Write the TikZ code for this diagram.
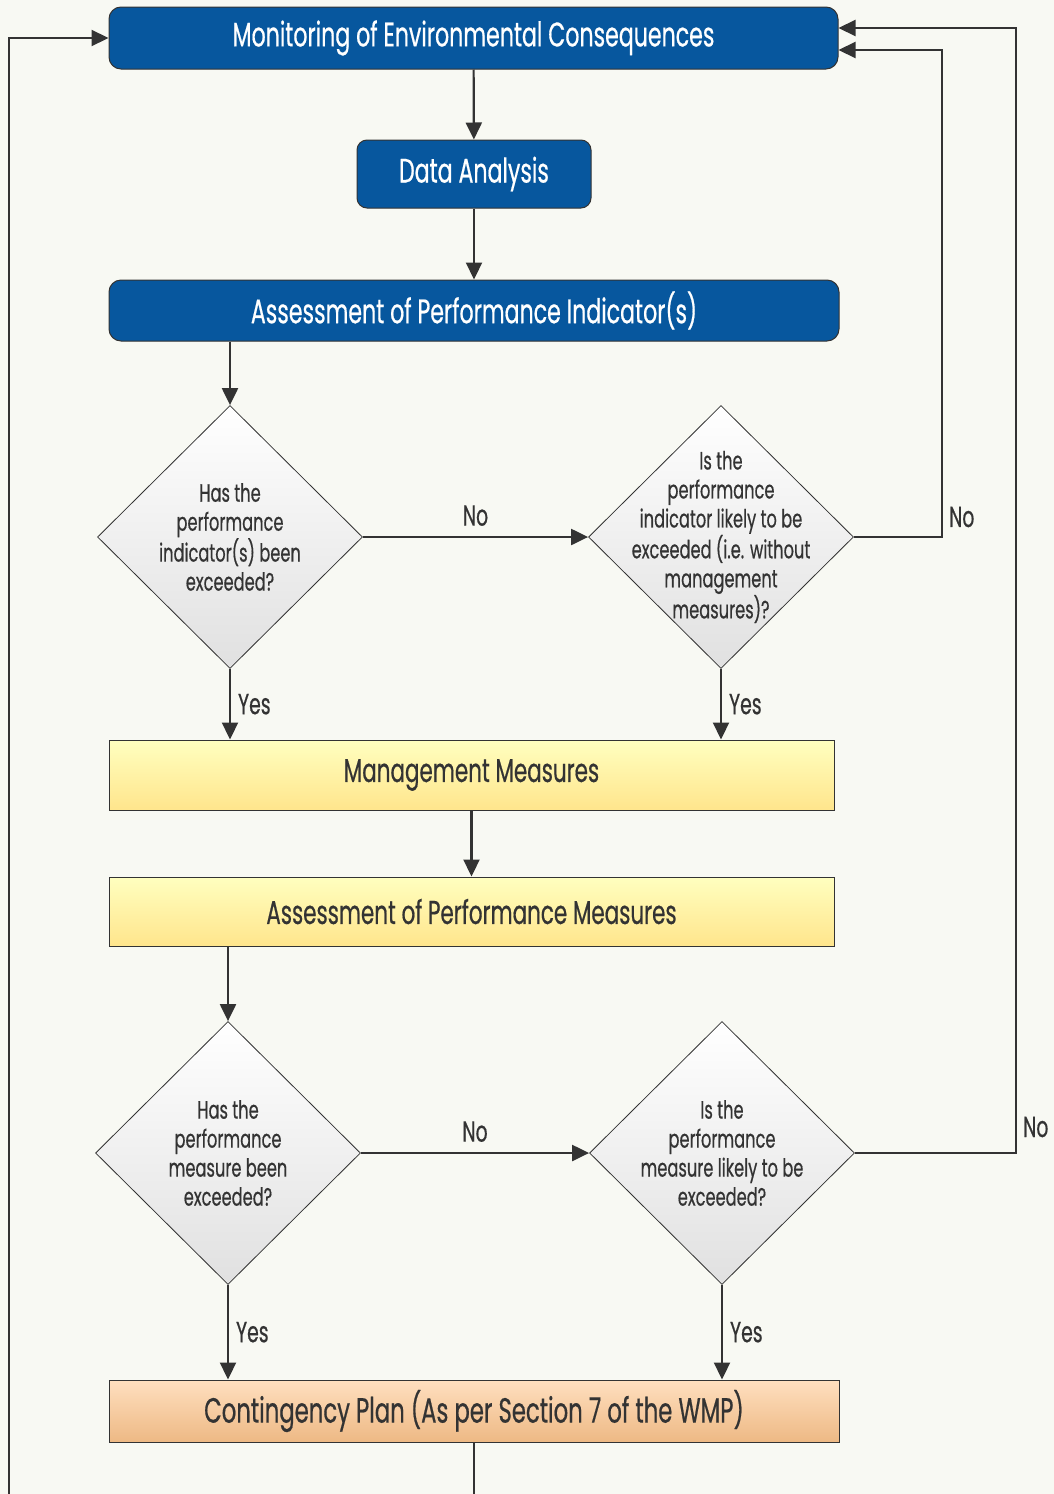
\documentclass[tikz,border=0pt]{standalone}
\usepackage{fontspec}
\setmainfont[FakeStretch=0.65,FakeBold=0.5]{Poppins}
\usetikzlibrary{shapes.geometric,arrows.meta}
\definecolor{bgcol}{HTML}{F8F9F3}
\definecolor{wmpblue}{HTML}{07579E}
\definecolor{linecol}{HTML}{333333}
\begin{document}
\begin{tikzpicture}[x=1pt,y=-1pt,
    bluebox/.style={draw=linecol, line width=1pt, fill=wmpblue, rounded corners=12pt, text=white, inner sep=0pt, font=\fontsize{34}{40}\selectfont},
    yellowbox/.style={draw=linecol, line width=1pt, top color=yellow!25!white, bottom color=yellow!55!orange!45!white, text=linecol, inner sep=0pt, font=\fontsize{33}{38}\selectfont},
    orangebox/.style={draw=linecol, line width=1pt, top color=orange!25!white, bottom color=orange!50!brown!55!white, text=linecol, inner sep=0pt, font=\fontsize{35}{40}\selectfont},
    decision/.style={diamond, draw=linecol, line width=0.8pt, top color=white, bottom color=black!12, minimum width=265pt, minimum height=263pt, inner sep=0pt},
    dtext/.style={align=center, text=linecol, font=\fontsize{25}{29}\selectfont},
    flow/.style={draw=linecol, line width=2.2pt, -{Triangle[length=17pt,width=16pt]}},
    plain/.style={draw=linecol, line width=2.2pt},
    answer/.style={text=linecol, inner sep=0pt, font=\fontsize{29}{34}\selectfont}]

    \fill[bgcol] (0,0) rectangle (1054,1494);
    \useasboundingbox (0,0) rectangle (1054,1494);

    \node[bluebox, minimum width=729pt, minimum height=62pt] (mon) at (473.5, 38) {Monitoring of Environmental Consequences};
    \node[bluebox, rounded corners=10pt, minimum width=234pt, minimum height=68pt] (data) at (474, 174) {Data Analysis};
    \node[bluebox, minimum width=730pt, minimum height=61pt] (api) at (474, 310.5) {Assessment of Performance Indicator(s)};

    \node[decision, label={[dtext]center:Has the\\performance\\indicator(s) been\\exceeded?}] (d1) at (230, 537) {};
    \node[decision, label={[dtext]center:Is the\\performance\\indicator likely to be\\exceeded (i.e. without\\management\\measures)?}] (d2) at (721, 537) {};

    \node[yellowbox, minimum width=725pt, minimum height=70pt] (mm) at (471.5, 775) {Management Measures};
    \node[yellowbox, minimum width=725pt, minimum height=69pt] (apm) at (471.5, 911.5) {Assessment of Performance Measures};

    \node[decision, label={[dtext]center:Has the\\performance\\measure been\\exceeded?}] (d3) at (228, 1153) {};
    \node[decision, label={[dtext]center:Is the\\performance\\measure likely to be\\exceeded?}] (d4) at (722, 1153) {};

    \node[orangebox, minimum width=730pt, minimum height=62pt] (cp) at (474, 1411) {Contingency Plan (As per Section 7 of the WMP)};

    \coordinate (loopa) at (942, 50);
    \coordinate (loopb) at (1016, 28);
    \coordinate (endb) at (474, 1494);
    \coordinate (endl) at (9, 1494);

    % main spine
    \draw[flow] (mon) -- (data);
    \draw[flow] (data) -- (api);
    \draw[flow] (d1.north |- api.south) -- (d1.north);
    \draw[flow] (mm) -- (apm);
    \draw[flow] (d3.north |- apm.south) -- (d3.north);

    % decisions
    \draw[flow] (d1.east) -- node[answer, above=10pt] {No} (d2.west);
    \draw[flow] (d3.east) -- node[answer, above=10pt] {No} (d4.west);
    \draw[flow] (d1.south) -- node[answer, right=7pt] {Yes} (d1.south |- mm.north);
    \draw[flow] (d2.south) -- node[answer, right=7pt] {Yes} (d2.south |- mm.north);
    \draw[flow] (d3.south) -- node[answer, right=7pt] {Yes} (d3.south |- cp.north);
    \draw[flow] (d4.south) -- node[answer, right=7pt] {Yes} (d4.south |- cp.north);

    % loops back
    \draw[flow] (d2.east) -| node[answer, pos=0.5, anchor=west, xshift=6pt, yshift=20pt] {No} (loopa) -- (mon.east |- loopa);
    \draw[flow] (d4.east) -| node[answer, pos=0.5, anchor=west, xshift=6pt, yshift=26pt] {No} (loopb) -- (mon.east |- loopb);
    \draw[plain] (cp.south) -- (endb);
    \draw[flow] (endl) |- (mon.west);
\end{tikzpicture}
\end{document}
